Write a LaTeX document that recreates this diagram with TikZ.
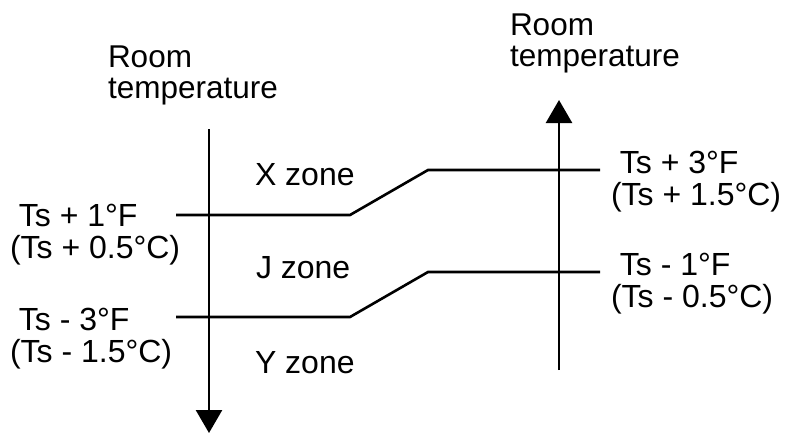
\documentclass[tikz,border=0pt]{standalone}
\usepackage{fontspec}
\setmainfont{Liberation Sans}
\usepackage{tikz}
\usetikzlibrary{arrows.meta}

\tikzset{
  axisline/.style={line width=2.6pt, -{Triangle[width=26pt,length=23pt]}},
  limitline/.style={line width=2.6pt, line join=miter},
  lbl/.style={inner sep=0pt, outer sep=0pt, anchor=base west, align=left,
    font=\fontsize{32}{32}\selectfont},
  axislbl/.style={lbl, font=\fontsize{31.5}{31}\selectfont}
}

\begin{document}
\begin{tikzpicture}[x=1pt, y=-1pt]
            \useasboundingbox (0,0) rectangle (787,432);
            % axes
            \coordinate (A) at (209,129);
            \coordinate (B) at (209,433);
            \coordinate (C) at (559,370);
            \coordinate (D) at (559,100);
            \draw[axisline] (A) -- (B);
            \draw[axisline] (C) -- (D);
            % upper limit
            \coordinate (U1) at (176,215);
            \coordinate (U2) at (350,215);
            \coordinate (U3) at (428,170);
            \coordinate (U4) at (600,170);
            \draw[limitline] (U1) -- (U2) -- (U3) -- (U4);
            % lower limit
            \coordinate (L1) at (176,317);
            \coordinate (L2) at (350,317);
            \coordinate (L3) at (428,272);
            \coordinate (L4) at (600,272);
            \draw[limitline] (L1) -- (L2) -- (L3) -- (L4);
            % labels (base = last line)
            \node[axislbl] (roomL) at (108,98) {Room\\temperature};
            \node[axislbl] (roomR) at (510,66) {Room\\temperature};
            \node[lbl] (xzone) at (255,185) {X zone};
            \node[lbl] (jzone) at (256,278) {J zone};
            \node[lbl] (yzone) at (255,373) {Y zone};
            \node[lbl] (upL) at (10,258) {\ Ts + 1°F\\(Ts + 0.5°C)};
            \node[lbl] (loL) at (10,362) {\ Ts - 3°F\\(Ts - 1.5°C)};
            \node[lbl] (upR) at (611,205) {\ Ts + 3°F\\(Ts + 1.5°C)};
            \node[lbl] (loR) at (611,307) {\ Ts - 1°F\\(Ts - 0.5°C)};
\end{tikzpicture}
\end{document}
